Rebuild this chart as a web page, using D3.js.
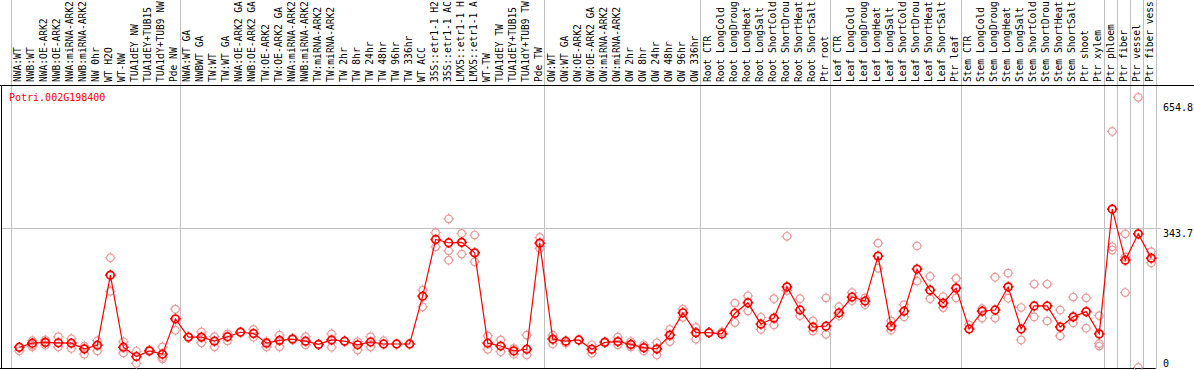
<!DOCTYPE html>
<html>
<head>
<meta charset="utf-8">
<script src="https://cdn.jsdelivr.net/npm/d3@7"></script>
<style>
  body { margin: 0; background: #fff; }
  svg { display: block; font-family: "DejaVu Sans Mono", monospace; }
</style>
</head>
<body>
<div id="wrapper"></div>
<script>
// sample names, one per column
const samples = [
  "NWA:WT", "NWB:WT", "NWA:OE-ARK2", "NWB:OE-ARK2", "NWA:miRNA-ARK2", "NWB:miRNA-ARK2",
  "NW 0hr", "WT H2O", "WT-NW", "TUA1dEY NW", "TUA1dEY+TUB15 NW", "TUA1dY+TUB9 NW", "Pde NW",
  "NWA:WT GA", "NWBWT GA", "TW:WT", "TW:WT GA", "NWA:OE-ARK2 GA", "NWB:OE-ARK2 GA",
  "TW:OE-ARK2", "TW:OE-ARK2 GA", "NWA:miRNA-ARK2", "NWB:miRNA-ARK2", "TW:miRNA-ARK2", "TW:miRNA-ARK2",
  "TW 2hr", "TW 8hr", "TW 24hr", "TW 48hr", "TW 96hr", "TW 336hr", "WT ACC",
  "35S::etr1-1 H2O", "35S::etr1-1 ACC", "LMX5::etr1-1 H2O", "LMX5::etr1-1 ACC",
  "WT-TW", "TUA1dEY TW", "TUA1dEY+TUB15 TW", "TUA1dY+TUB9 TW", "Pde TW",
  "OW:WT", "OW:WT GA", "OW:OE-ARK2", "OW:OE-ARK2 GA", "OW:miRNA-ARK2", "OW:miRNA-ARK2",
  "OW 2hr", "OW 8hr", "OW 24hr", "OW 48hr", "OW 96hr", "OW 336hr",
  "Root CTR", "Root LongCold", "Root LongDrought", "Root LongHeat", "Root LongSalt",
  "Root ShortCold", "Root ShortDrought", "Root ShortHeat", "Root ShortSalt", "Ptr root",
  "Leaf CTR", "Leaf LongCold", "Leaf LongDrought", "Leaf LongHeat", "Leaf LongSalt",
  "Leaf ShortCold", "Leaf ShortDrought", "Leaf ShortHeat", "Leaf ShortSalt", "Ptr leaf",
  "Stem CTR", "Stem LongCold", "Stem LongDrought", "Stem LongHeat", "Stem LongSalt",
  "Stem ShortCold", "Stem ShortDrought", "Stem ShortHeat", "Stem ShortSalt", "Ptr shoot",
  "Ptr xylem", "Ptr phloem", "Ptr fiber", "Ptr vessel", "Ptr fiber vessel"
]

// mean expression per sample
const means = [
  50, 60, 62, 61, 60, 46, 55, 228, 50, 27, 41, 33, 120,
  75, 75, 65, 76, 87, 84, 60, 67, 70, 65, 57, 68, 65, 56, 63, 58, 58, 58, 176,
  316, 308, 309, 283, 60, 53, 41, 45, 307,
  70, 65, 68, 45, 62, 64, 57, 49, 46, 80, 135, 86,
  86, 83, 134, 160, 107, 122, 199, 142, 100, 102,
  135, 174, 164, 275, 102, 139, 243, 191, 159, 196,
  95, 139, 142, 199, 95, 152, 152, 100, 125, 138,
  83, 391, 265, 330, 270
]

// individual replicates per sample
const replicates = [
  [41, 50], [66, 55, 51], [68, 62, 55], [76, 51], [71, 47], [53, 33], [66, 41],
  [271, 188], [64, 36], [40, 10], [43], [51, 25, 21], [144, 92],
  [75], [88, 61], [76, 51], [83, 66], [88], [94, 75], [64, 51], [80, 51], [72],
  [76, 56], [57], [83, 50], [65], [64, 43], [76, 51], [66], [58], [58], [191, 150],
  [333, 298], [367, 288, 265], [331, 280], [327, 261], [78, 45], [68, 39], [47, 33],
  [80, 31], [321, 294],
  [80, 58], [60], [68], [56, 35], [64], [75, 56], [64, 51], [56, 41], [61, 31],
  [94, 64], [144, 124], [99, 70],
  [86], [88], [159, 111], [177, 140], [124, 94], [170, 105], [324, 190], [170, 128],
  [115, 90], [172, 82],
  [150, 128], [185, 165], [172, 155], [307, 245], [115, 92], [155, 125], [300, 213],
  [225, 170], [175, 148], [220, 172],
  [105], [145, 122], [223, 122], [233, 171], [148, 68], [206, 125], [206, 115],
  [142, 78], [174, 110], [172, 97],
  [128, 59, 53], [583, 298, 290], [330, 273, 185], [667, 0], [286, 258]
]

// column indexes where a gray group divider is drawn
const dividers = [0, 13, 41, 53, 63, 73, 84, 85, 86, 87, 88]
const yTicks = [0, 343.7, 654.8]
const geneId = "Potri.002G198400"
// the header only has room for this many characters
const labelChars = 14

const dimensions = {
  width: 1194,
  height: 370,
  headerBottom: 85,
  plotLeft: 10.7,
  plotRight: 1155.7,
  plotBottom: 368.5,
}

const svg = d3.select("#wrapper")
  .append("svg")
  .attr("width", dimensions.width)
  .attr("height", dimensions.height)

// scales
const xScale = d3.scaleLinear()
  .domain([0, samples.length])
  .range([dimensions.plotLeft, dimensions.plotRight])
const px = i => xScale(i + 0.66)

const yScale = d3.scaleLinear()
  .domain([0, 654.8])
  .range([367.5, 102.3])

// gray dividers through header and plot
svg.append("g")
  .selectAll("line")
  .data(dividers)
  .join("line")
  .attr("x1", d => Math.round(xScale(d)) + 0.5)
  .attr("x2", d => Math.round(xScale(d)) + 0.5)
  .attr("y1", 0)
  .attr("y2", dimensions.plotBottom)
  .attr("stroke", "#c0c0c0")
  .attr("stroke-width", 1)

// gridline at the middle tick
svg.append("line")
  .attr("x1", 2)
  .attr("x2", 1161)
  .attr("y1", Math.round(yScale(343.7)) + 0.5)
  .attr("y2", Math.round(yScale(343.7)) + 0.5)
  .attr("stroke", "#c0c0c0")

// frame
svg.append("line")
  .attr("x1", 0).attr("x2", dimensions.width)
  .attr("y1", dimensions.headerBottom + 0.5).attr("y2", dimensions.headerBottom + 0.5)
  .attr("stroke", "#000")
svg.append("line")
  .attr("x1", 1.5).attr("x2", 1.5)
  .attr("y1", dimensions.headerBottom).attr("y2", dimensions.plotBottom)
  .attr("stroke", "#000")
svg.append("line")
  .attr("x1", 0).attr("x2", dimensions.plotRight)
  .attr("y1", dimensions.plotBottom).attr("y2", dimensions.plotBottom)
  .attr("stroke", "#000")

// sample labels, rotated
svg.append("g")
  .selectAll("text")
  .data(samples)
  .join("text")
  .attr("transform", (d, i) => `translate(${px(i) + 2},82) rotate(-90)`)
  .attr("font-size", 9.6)
  .attr("fill", "#000")
  .text(d => d.slice(0, labelChars).trimEnd())

// right axis
const yAxisGenerator = d3.axisRight(yScale)
  .tickValues(yTicks)
  .tickSize(0)
  .tickFormat(d => d === 0 ? "0" : d3.format(".1f")(d))

const yAxis = svg.append("g")
  .attr("transform", "translate(1160,0)")
  .call(yAxisGenerator)
yAxis.select(".domain").remove()
yAxis.selectAll("text")
  .attr("x", 3)
  .attr("font-family", "DejaVu Sans Mono, monospace")
  .attr("font-size", 10)
  .attr("fill", "#000")
  .attr("dy", d => d === 0 ? "-0.15em" : "0.85em")

// gene name
svg.append("text")
  .attr("x", 9)
  .attr("y", 101)
  .attr("font-size", 10)
  .attr("fill", "#ff0000")
  .text(geneId)

// circle marker with small teeth
const marker = r => {
  const p = d3.path()
  p.moveTo(r, 0)
  p.arc(0, 0, r, 0, 2 * Math.PI)
  p.moveTo(0, -r); p.lineTo(0, -r - 1.5)
  p.moveTo(0, r); p.lineTo(0, r + 1.5)
  p.moveTo(-r, 0); p.lineTo(-r - 1.5, 0)
  p.moveTo(r, 0); p.lineTo(r + 1.5, 0)
  return p.toString()
}

const repPoints = replicates.flatMap((reps, i) => reps.map(v => ({ i, v })))

svg.append("g")
  .selectAll("path")
  .data(repPoints)
  .join("path")
  .attr("transform", d => `translate(${px(d.i)},${yScale(d.v)})`)
  .attr("d", marker(3.8))
  .attr("fill", "none")
  .attr("stroke", "#eb9a9a")
  .attr("stroke-width", 1.2)

const lineGenerator = d3.line()
  .x((d, i) => px(i))
  .y(d => yScale(d))

svg.append("path")
  .datum(means)
  .attr("d", lineGenerator)
  .attr("fill", "none")
  .attr("stroke", "#ff0000")
  .attr("stroke-width", 1.2)

svg.append("g")
  .selectAll("path")
  .data(means)
  .join("path")
  .attr("transform", (d, i) => `translate(${px(i)},${yScale(d)})`)
  .attr("d", marker(3.8))
  .attr("fill", "none")
  .attr("stroke", "#ff0000")
  .attr("stroke-width", 1.7)
</script>
</body>
</html>
